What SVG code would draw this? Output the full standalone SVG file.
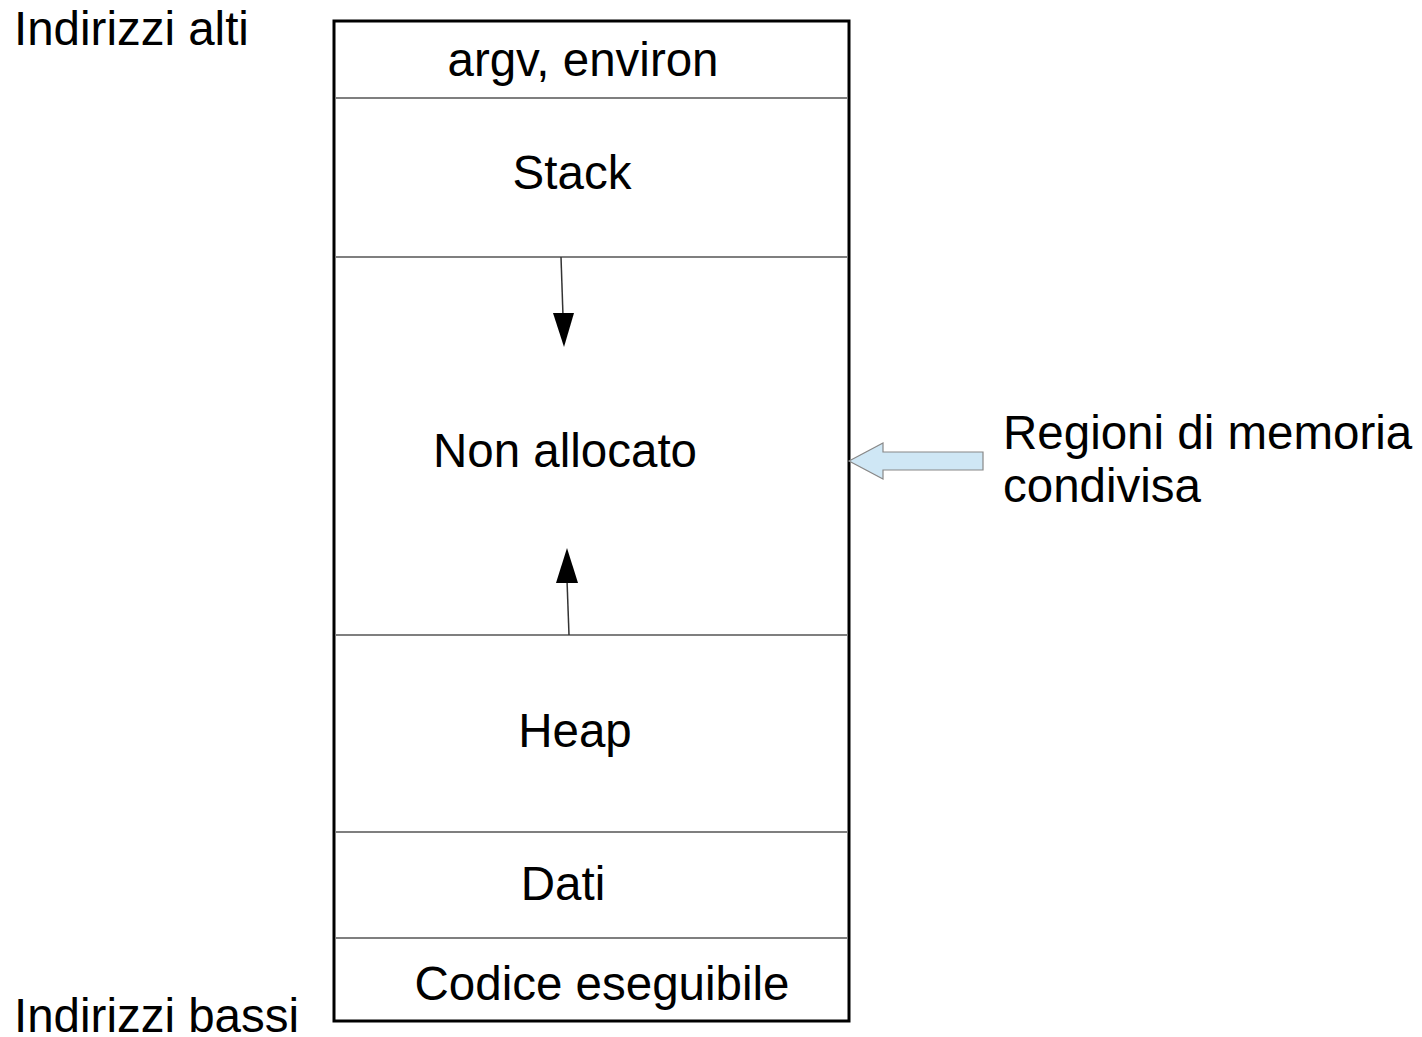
<svg xmlns="http://www.w3.org/2000/svg" width="1422" height="1037" viewBox="0 0 1422 1037">
  <style>
    text { font-family: "Liberation Sans", Arial, sans-serif; font-size: 47.5px; fill: #000; }
    .mid { text-anchor: middle; }
    .sep { stroke: #555; stroke-width: 1.5; }
    .frame { fill: #fff; stroke: #000; stroke-width: 3; }
    .grow { stroke: #333; stroke-width: 1.5; fill: none; }
    .head { fill: #000; }
    .shared { fill: #cfe7f5; stroke: #888; stroke-width: 1.2; }
  </style>

  <!-- address labels -->
  <g id="label-high"><text x="14" y="45">Indirizzi alti</text></g>
  <g id="label-low"><text x="14" y="1032">Indirizzi bassi</text></g>

  <!-- memory layout column -->
  <g id="memory">
    <rect class="frame" x="334" y="21" width="515" height="1000"/>
    <line class="sep" x1="336" y1="98" x2="847" y2="98"/>
    <line class="sep" x1="336" y1="257" x2="847" y2="257"/>
    <line class="sep" x1="336" y1="635" x2="847" y2="635"/>
    <line class="sep" x1="336" y1="832" x2="847" y2="832"/>
    <line class="sep" x1="336" y1="938" x2="847" y2="938"/>
  </g>

  <g id="seg-args"><text class="mid" x="583" y="76">argv, environ</text></g>
  <g id="seg-stack"><text class="mid" x="572" y="189">Stack</text></g>
  <g id="seg-free"><text class="mid" x="565" y="467">Non allocato</text></g>
  <g id="seg-heap"><text class="mid" x="575" y="747">Heap</text></g>
  <g id="seg-data"><text class="mid" x="563" y="900">Dati</text></g>
  <g id="seg-code"><text class="mid" x="602" y="1000">Codice eseguibile</text></g>

  <g id="shared-label">
    <text x="1003" y="449">Regioni di memoria</text>
    <text x="1003" y="502">condivisa</text>
  </g>

  <!-- connectors -->
  <g id="connectors">
    <!-- stack grows down -->
    <line class="grow" x1="561" y1="257" x2="563" y2="316"/>
    <polygon class="head" points="553,313 574,313 564,347"/>
    <!-- heap grows up -->
    <line class="grow" x1="569" y1="635" x2="567" y2="580"/>
    <polygon class="head" points="556,583 578,583 567,548"/>
    <!-- shared regions block arrow -->
    <polygon class="shared" points="849,461 883,443 883,452 983,452 983,470 883,470 883,479"/>
  </g>
</svg>
